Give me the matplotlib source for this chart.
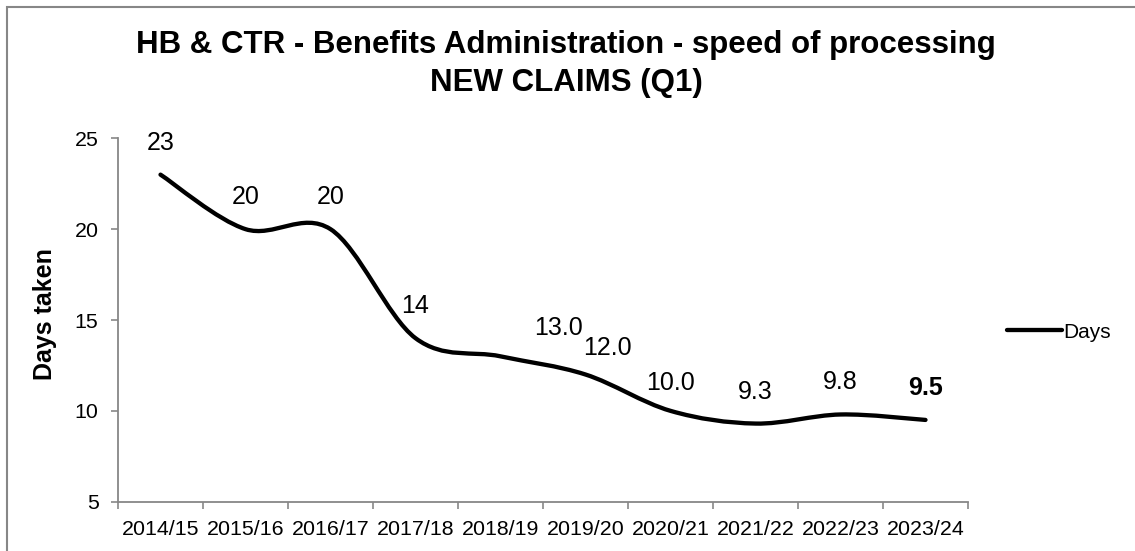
import matplotlib.pyplot as plt
from matplotlib.path import Path
from matplotlib.patches import PathPatch, Rectangle
from matplotlib.lines import Line2D

plt.rcParams['font.family'] = ['Liberation Sans', 'DejaVu Sans']

years = ['2014/15', '2015/16', '2016/17', '2017/18', '2018/19',
         '2019/20', '2020/21', '2021/22', '2022/23', '2023/24']
days = [23, 20, 20, 14, 13.0, 12.0, 10.0, 9.3, 9.8, 9.5]
day_labels = ['23', '20', '20', '14', '13.0', '12.0', '10.0', '9.3', '9.8', '9.5']

# a couple of labels were dragged off their default spot
nudge = {4: (58, -4), 5: (22, -5), 6: (0, -4)}

fig = plt.figure(figsize=(11.35, 5.51), dpi=100)
ax = fig.add_axes([118 / 1135, 49.3 / 551, 850 / 1135, 363.4 / 551])

# smoothed line: catmull-rom style bezier through each point
xs = list(range(len(days)))
pts = list(zip(xs, days))
verts = [pts[0]]
codes = [Path.MOVETO]
for i in range(len(pts) - 1):
    p0 = pts[i - 1] if i > 0 else pts[i]
    p1 = pts[i]
    p2 = pts[i + 1]
    p3 = pts[i + 2] if i + 2 < len(pts) else pts[i + 1]
    c1 = (p1[0] + (p2[0] - p0[0]) / 6, p1[1] + (p2[1] - p0[1]) / 6)
    c2 = (p2[0] - (p3[0] - p1[0]) / 6, p2[1] - (p3[1] - p1[1]) / 6)
    verts += [c1, c2, p2]
    codes += [Path.CURVE4] * 3
ax.add_patch(PathPatch(Path(verts, codes), facecolor='none', edgecolor='black',
                       lw=3.1, capstyle='round', joinstyle='round'))

for i, (v, lab) in enumerate(zip(days, day_labels)):
    dx, dy = nudge.get(i, (0, 0))
    ax.annotate(lab, (i, v), xytext=(dx, 32 + dy), textcoords='offset pixels',
                ha='center', va='center', fontsize=18,
                fontweight='bold' if i == len(days) - 1 else 'normal')

ax.set_xlim(-0.5, len(days) - 0.5)
ax.set_ylim(5, 25)
ax.set_yticks([5, 10, 15, 20, 25])

# tick marks between categories, labels at the middle
ax.set_xticks([i - 0.5 for i in range(len(days) + 1)])
ax.set_xticklabels([])
ax.set_xticks(xs, minor=True)
ax.set_xticklabels(years, minor=True)
ax.tick_params(axis='x', which='major', length=5, width=1.2, color='#878787')
ax.tick_params(axis='x', which='minor', length=0, pad=13, labelsize=15.4)
ax.tick_params(axis='y', length=5, width=1.2, color='#878787', pad=9, labelsize=15.4)

for side in ['top', 'right']:
    ax.spines[side].set_visible(False)
for side in ['left', 'bottom']:
    ax.spines[side].set_color('#878787')
    ax.spines[side].set_linewidth(1.3)

fig.text(566 / 1135, 1 - 64 / 551,
         'HB & CTR - Benefits Administration - speed of processing\nNEW CLAIMS (Q1)',
         ha='center', va='center', fontsize=22.5, fontweight='bold', linespacing=1.32)
fig.text(45 / 1135, 1 - 314 / 551, 'Days taken', rotation=90,
         ha='center', va='center', fontsize=18, fontweight='bold')

handle = Line2D([], [], color='black', lw=3.1, solid_capstyle='round')
fig.legend([handle], ['Days'], loc='center left',
           bbox_to_anchor=(1007 / 1135, 1 - 332 / 551), frameon=False,
           borderpad=0, borderaxespad=0, handlelength=2.64, handletextpad=0.05,
           fontsize=15)

# chart area outline
fig.patches.append(Rectangle((7 / 1135, -0.05), 1.2, 1.05 - 7 / 551,
                             transform=fig.transFigure, fill=False,
                             edgecolor='#878787', lw=1.5))

fig.savefig('out.png', dpi=100)
